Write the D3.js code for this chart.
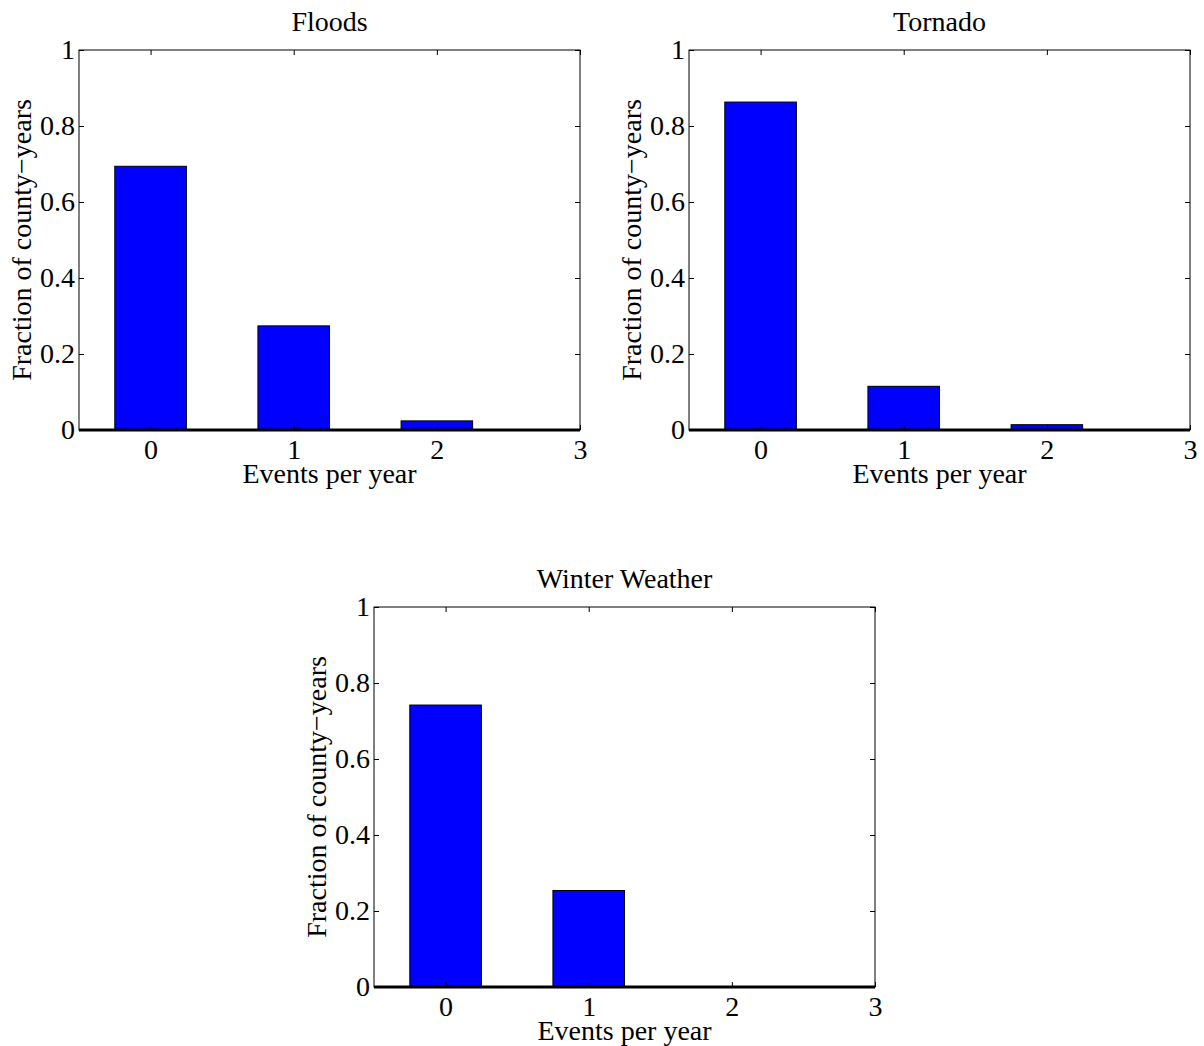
<!DOCTYPE html>
<html>
<head>
<meta charset="utf-8">
<script src="https://cdn.jsdelivr.net/npm/d3@7"></script>
<style>
  body { margin: 0; background: #fff; }
  text { font-family: "Liberation Serif", "Times New Roman", serif; }
</style>
</head>
<body>
<div id="viz"></div>
<script>
// data
const events = [0, 1, 2, 3];
const yTicks = [0, 0.2, 0.4, 0.6, 0.8, 1];
const titles = ["Floods", "Tornado", "Winter Weather"];
const floods = [0.694, 0.274, 0.024, 0];
const tornado = [0.863, 0.115, 0.014, 0];
const winter = [0.742, 0.254, 0, 0];

const width = 1204;
const height = 1046;
const fontSize = 28;

const svg = d3.select("#viz")
  .append("svg")
  .attr("width", width)
  .attr("height", height);

// panel placement
const panels = [
  { title: titles[0], values: floods, left: 79, top: 50 },
  { title: titles[1], values: tornado, left: 689, top: 50 },
  { title: titles[2], values: winter, left: 374, top: 607 }
];
const pw = 501, ph = 380;

function drawPanel(p) {
  const g = svg.append("g").attr("transform", `translate(${p.left},${p.top})`);

  const x = d3.scaleLinear().domain([-0.5, 3]).range([0, pw]);
  const y = d3.scaleLinear().domain([0, 1]).range([ph, 0]);
  const barW = x(0.5) - x(0);

  // bars
  g.selectAll("rect.bar")
    .data(p.values)
    .enter()
    .append("rect")
    .attr("class", "bar")
    .attr("x", (d, i) => x(events[i]) - barW / 2)
    .attr("y", d => y(d))
    .attr("width", barW)
    .attr("height", d => y(0) - y(d))
    .attr("fill", "#0000ff")
    .attr("stroke", "#000")
    .attr("stroke-width", 1);

  // box
  g.append("rect")
    .attr("x", 0).attr("y", 0)
    .attr("width", pw).attr("height", ph)
    .attr("fill", "none")
    .attr("stroke", "#000")
    .attr("stroke-width", 1);

  const fmt = d => (d === 0 || d === 1) ? String(d) : d3.format(".1f")(d);

  const xAxis = g.append("g")
    .attr("transform", `translate(0,${ph})`)
    .call(d3.axisBottom(x).tickValues(events).tickSize(-5).tickPadding(9).tickFormat(d3.format("d")));
  const xTop = g.append("g")
    .call(d3.axisTop(x).tickValues(events).tickSize(-5).tickFormat(""));
  const yAxis = g.append("g")
    .call(d3.axisLeft(y).tickValues(yTicks).tickSize(-5).tickPadding(4).tickFormat(fmt));
  const yRight = g.append("g")
    .attr("transform", `translate(${pw},0)`)
    .call(d3.axisRight(y).tickValues(yTicks).tickSize(-5).tickFormat(""));

  [xAxis, xTop, yAxis, yRight].forEach(a => {
    a.select(".domain").remove();
    a.selectAll("line").attr("stroke", "#000");
    a.selectAll("text")
      .attr("font-family", "Liberation Serif, Times New Roman, serif")
      .attr("font-size", fontSize)
      .attr("fill", "#000");
  });

  // thick baseline
  g.append("line")
    .attr("x1", 0).attr("x2", pw)
    .attr("y1", y(0)).attr("y2", y(0))
    .attr("stroke", "#000")
    .attr("stroke-width", 3);

  // title
  g.append("text")
    .attr("x", pw / 2)
    .attr("y", -19)
    .attr("text-anchor", "middle")
    .attr("font-size", fontSize)
    .text(p.title);

  // x label
  g.append("text")
    .attr("x", x(1.25))
    .attr("y", ph + 53)
    .attr("text-anchor", "middle")
    .attr("font-size", fontSize)
    .text("Events per year");

  // y label
  g.append("text")
    .attr("transform", `translate(-48,${ph / 2}) rotate(-90)`)
    .attr("text-anchor", "middle")
    .attr("font-size", fontSize)
    .text("Fraction of county\u2212years");
}

panels.forEach(drawPanel);
</script>
</body>
</html>
